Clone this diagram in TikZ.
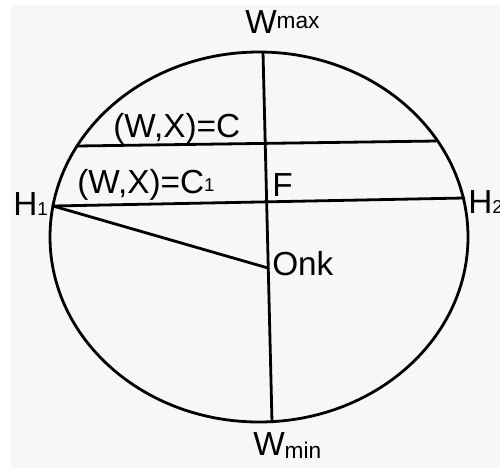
\documentclass[tikz,border=0pt]{standalone}
\usepackage{fontspec}
\setmainfont{Liberation Sans}
\newcommand{\sm}[1]{{\fontsize{17}{17}\selectfont #1}}
\newcommand{\dg}[1]{{\fontsize{14}{14}\selectfont #1}}

\begin{document}
\begin{tikzpicture}[x=0.75pt,y=-0.75pt,
  curve/.style={line width=2.1pt,line join=round,line cap=round},
  lbl/.style={anchor=base west,inner sep=0pt,font=\fontsize{25}{29}\selectfont}]
\useasboundingbox (0,0) rectangle (500,469);
\fill[black!3] (11,5) rectangle (500,468);
\coordinate (Wtop) at (263,52);
\coordinate (Wbot) at (272,422);
\coordinate (H1) at (53,206);
\coordinate (H2) at (464,198);
\coordinate (Cl) at (77,146);
\coordinate (Cr) at (436,141);
\coordinate (O) at (268,268);
\draw[curve] (259,237) ellipse [x radius=209,y radius=185];
\draw[curve] (Wtop) -- (Wbot);
\draw[curve] (Cl) -- (Cr);
\draw[curve] (H1) -- (H2);
\draw[curve] (H1) -- (O);
\node[lbl] (wmax) at (245,33) {W\raisebox{3.75pt}{\sm{max}}};
\node[lbl] (wmin) at (253,455) {W\raisebox{-2.25pt}{\sm{min}}};
\node[lbl] (cc) at (113,137) {(W,X)=C};
\node[lbl] (cc1) at (77,193) {(W,X)=C\raisebox{1.5pt}{\dg{1}}};
\node[lbl] (f) at (272,196) {F};
\node[lbl] (h1) at (13,215) {H\dg{1}};
\node[lbl] (h2) at (468,213) {H\dg{2}};
\node[lbl] (onk) at (272,275) {Onk};
\end{tikzpicture}
\end{document}
